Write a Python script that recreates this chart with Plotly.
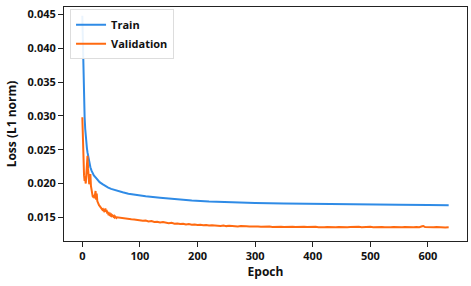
import plotly.graph_objects as go

train_epochs = [0, 1, 2, 3, 4, 5, 6, 7, 8, 9, 10, 12, 14, 16, 18, 20, 23, 26, 30, 35, 40, 45, 50,
                60, 70, 80, 95, 110, 135, 160, 190, 220, 260, 300, 350, 400, 450, 500, 550, 600, 636]
train_loss = [0.0448, 0.0400, 0.0355, 0.0322, 0.0298, 0.0281, 0.0268, 0.0259, 0.0252, 0.0246, 0.0240,
              0.0231, 0.0224, 0.0219, 0.0215, 0.0212, 0.0209, 0.0206, 0.0202, 0.0199, 0.0196, 0.0194,
              0.0192, 0.0189, 0.0187, 0.0185, 0.0183, 0.0181, 0.0179, 0.0177, 0.0175, 0.01735, 0.0172,
              0.01712, 0.01705, 0.01698, 0.01693, 0.01688, 0.01685, 0.01682, 0.0168]

val_epochs = list(range(0, 61)) + [65, 70, 75, 80, 85, 90, 95, 100, 105, 110, 115, 120, 125, 130, 135,
              140, 145, 150, 155, 160, 165, 170, 175, 180, 185, 190, 195, 200, 205, 210, 215, 220, 225,
              230, 235, 240, 245, 250, 255, 260, 265, 270, 275, 280, 285, 290, 295, 300, 305, 310, 315,
              320, 325, 330, 335, 340, 345, 350, 355, 360, 365, 370, 375, 380, 385, 390, 395, 400, 405,
              410, 415, 420, 425, 430, 435, 440, 445, 450, 455, 460, 465, 470, 475, 480, 485, 490, 495,
              500, 505, 510, 515, 520, 525, 530, 535, 540, 545, 550, 555, 560, 565, 570, 575, 580, 585,
              590, 592, 595, 600, 605, 610, 615, 620, 625, 630, 636]
val_loss = [0.0298, 0.0262, 0.0228, 0.0212, 0.0204, 0.0206, 0.0200, 0.0215, 0.0236, 0.0241, 0.0222,
            0.0205, 0.0199, 0.0203, 0.0214, 0.0196, 0.0189, 0.0184, 0.0181, 0.0180, 0.0183, 0.0178,
            0.0186, 0.0189, 0.0176, 0.0185, 0.0174, 0.0171, 0.0170, 0.0168, 0.0167, 0.0166, 0.0164,
            0.0163, 0.0163, 0.0161, 0.0162, 0.0160, 0.0159, 0.0160, 0.0163, 0.0158, 0.0161, 0.0156,
            0.0157, 0.0155, 0.0156, 0.0154, 0.0155, 0.0153, 0.0154, 0.0152, 0.0153, 0.0152, 0.0151,
            0.0152, 0.0150, 0.0151, 0.0150, 0.0149, 0.0150,
            0.01492, 0.01488, 0.01480, 0.01478, 0.01470, 0.01468, 0.01460, 0.01458, 0.01450, 0.01452,
            0.01440, 0.01445, 0.01432, 0.01436, 0.01425, 0.01430, 0.01420, 0.01412, 0.01418, 0.01405,
            0.01410, 0.01400, 0.01405, 0.01395, 0.01400, 0.01390, 0.01394, 0.01386, 0.01390, 0.01382,
            0.01386, 0.01378, 0.01382, 0.01375, 0.01379, 0.01372, 0.01378, 0.01370, 0.01374, 0.01368,
            0.01372, 0.01366, 0.01370, 0.01364, 0.01369, 0.01363, 0.01367, 0.01362, 0.01366, 0.01360,
            0.01365, 0.01359, 0.01364, 0.01358, 0.01363, 0.01358, 0.01362, 0.01357, 0.01361, 0.01356,
            0.01362, 0.01356, 0.01360, 0.01355, 0.01361, 0.01356, 0.01360, 0.01354, 0.01359, 0.01355,
            0.01360, 0.01354, 0.01358, 0.01353, 0.01359, 0.01354, 0.01358, 0.01353, 0.01359, 0.01354,
            0.01358, 0.01362, 0.01355, 0.01359, 0.01353, 0.01358, 0.01354, 0.01360, 0.01354, 0.01358,
            0.01353, 0.01357, 0.01352, 0.01358, 0.01353, 0.01357, 0.01352, 0.01358, 0.01353, 0.01357,
            0.01352, 0.01358, 0.01353, 0.01357, 0.01354, 0.01368, 0.01372, 0.01356, 0.01352, 0.01357,
            0.01353, 0.01358, 0.01352, 0.01356, 0.01351, 0.01354]

y_ticks = [0.015, 0.020, 0.025, 0.030, 0.035, 0.040, 0.045]
x_ticks = [0, 100, 200, 300, 400, 500, 600]

FONT = "Open Sans"

fig = go.Figure()
fig.add_trace(go.Scatter(x=train_epochs, y=train_loss, mode="lines", name="<b>Train</b>",
                         line=dict(color="#2F8BE6", width=2)))
fig.add_trace(go.Scatter(x=val_epochs, y=val_loss, mode="lines", name="<b>Validation</b>",
                         line=dict(color="#FF6A10", width=2)))

axis_common = dict(showline=True, linecolor="#222222", linewidth=1, mirror=True, automargin=False,
                   ticks="outside", ticklen=5, tickcolor="#222222", showgrid=False, zeroline=False,
                   tickfont=dict(family=FONT, size=11, color="#111111"))

fig.update_layout(
    width=471, height=286,
    margin=dict(l=64, r=4, t=7, b=45),
    paper_bgcolor="white", plot_bgcolor="white",
    font=dict(family=FONT, color="#111111"),
    xaxis=dict(range=[-31.8, 667.8], tickvals=x_ticks, ticktext=[f"<b>{v}</b>" for v in x_ticks],
               title=dict(text="<b>Epoch</b>", font=dict(family=FONT, size=12), standoff=0),
               **axis_common),
    yaxis=dict(range=[0.0115, 0.0461], tickvals=y_ticks, ticktext=[f"<b>{v:.3f}</b>" for v in y_ticks],
               title=dict(text="<b>Loss (L1 norm)</b>", font=dict(family=FONT, size=12), standoff=8),
               **axis_common),
    legend=dict(x=0.015, y=0.99, xanchor="left", yanchor="top", bgcolor="rgba(255,255,255,0.9)",
                bordercolor="#DDDDDD", borderwidth=1, font=dict(family=FONT, size=11, color="#111111"),
                itemwidth=30, tracegroupgap=0),
    showlegend=True,
)

fig.write_html("out.html", config={"displayModeBar": False})

with open("out.html", "r", encoding="utf-8") as f:
    html = f.read()
html = html.replace("<body>", '<body style="margin:0;padding:0;overflow:hidden">', 1)
html = html.replace("<head>", '<head><style>html,body{margin:0;padding:0;overflow:hidden}</style>', 1)
with open("out.html", "w", encoding="utf-8") as f:
    f.write(html)
